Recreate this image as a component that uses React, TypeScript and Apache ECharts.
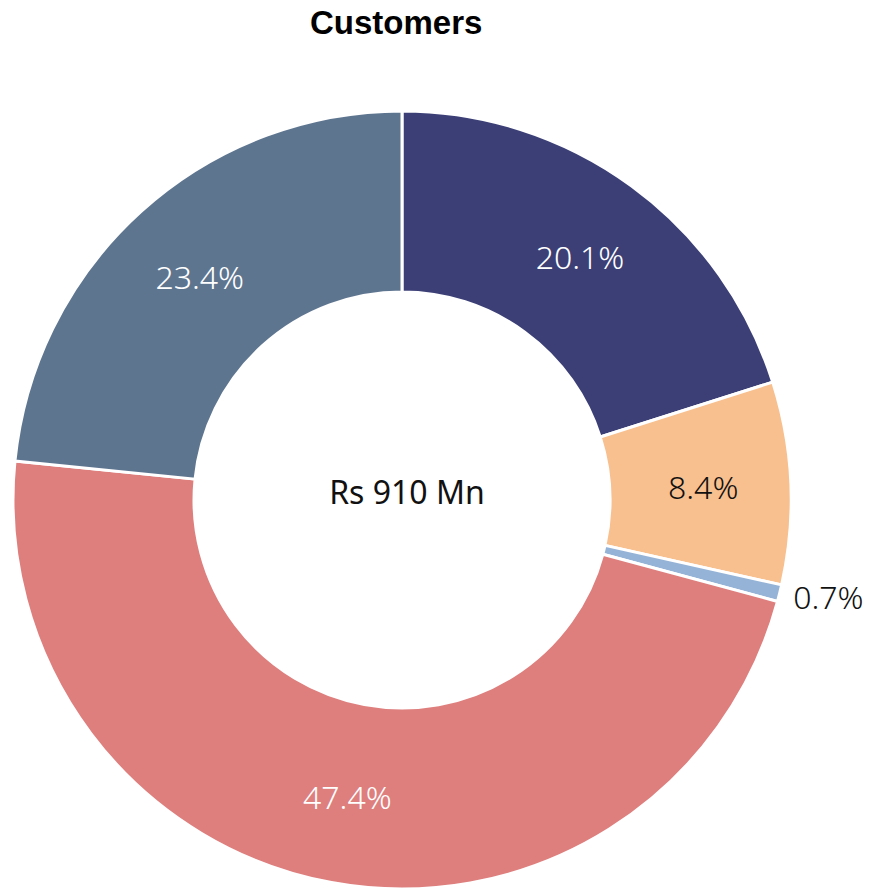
import React, { useEffect, useRef } from "react";
import * as echarts from "echarts";

const categories = ["A", "B", "C", "D", "E"];
const values = [20.1, 8.4, 0.7, 47.4, 23.4];
const colors = ["#3b3f76", "#f8bf8f", "#95b3d7", "#de7e7d", "#5e7590"];
const labelColors = ["#ffffff", "#111111", "#111111", "#ffffff", "#ffffff"];
const titleText = "Customers";
const centerText = "Rs 910 Mn";

export default function App() {
  const ref = useRef<HTMLDivElement>(null);
  useEffect(() => {
    if (!ref.current) return;
    const chart = echarts.init(ref.current, null, { renderer: "svg" });
    const font = "'Noto Sans', sans-serif";
    chart.setOption({
      animation: false,
      title: {
        text: titleText,
        left: 305,
        top: 1,
        textStyle: { fontFamily: "'Liberation Sans', Arial, sans-serif", fontWeight: "bold", fontSize: 33, color: "#000" },
      },
      graphic: [
        {
          type: "text",
          x: 407,
          y: 491,
          style: { text: centerText, fontFamily: font, fontSize: 32, fontWeight: 400, fill: "#111", textAlign: "center", textVerticalAlign: "middle" },
        },
      ],
      series: [
        {
          type: "pie",
          center: [402, 500],
          radius: [208, 389],
          startAngle: 90,
          clockwise: true,
          avoidLabelOverlap: false,
          itemStyle: { borderColor: "#fff", borderWidth: 3 },
          label: { show: true, position: "inside", fontFamily: font, fontSize: 32, fontWeight: 300, formatter: (p: any) => p.value.toFixed(1) + "%" },
          labelLine: { show: false },
          data: categories.map((c, i) => ({
            name: c,
            value: values[i],
            itemStyle: { color: colors[i] },
            label:
              i === 2
                ? { position: "outside", color: labelColors[i], distanceToLabelLine: 0 }
                : { color: labelColors[i] },
            labelLine: i === 2 ? { show: false, length: 14, length2: 0 } : { show: false },
          })),
        },
      ],
    });
    return () => chart.dispose();
  }, []);
  return <div ref={ref} style={{ position: "fixed", left: 0, top: 0, width: 871, height: 891, background: "#fff" }} />;
}
